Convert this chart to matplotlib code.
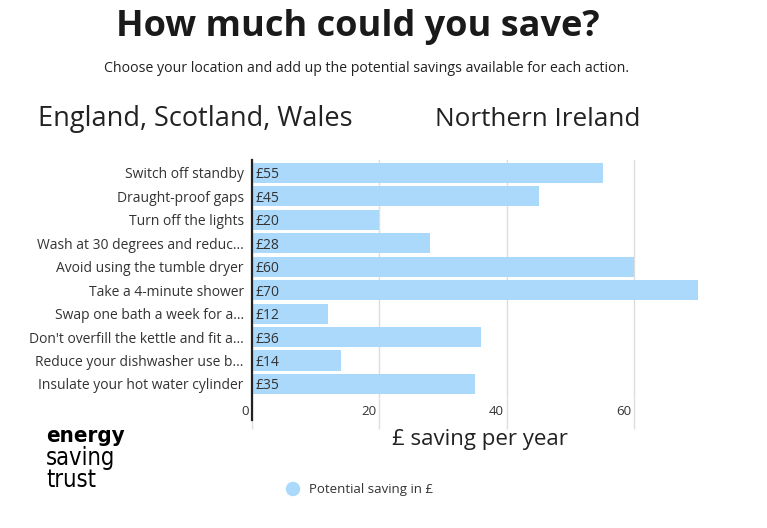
import numpy as np
import matplotlib.pyplot as plt
import matplotlib.transforms as mtransforms
from matplotlib.patches import Ellipse

actions = [
    "Switch off standby",
    "Draught-proof gaps",
    "Turn off the lights",
    "Wash at 30 degrees and reduc...",
    "Avoid using the tumble dryer",
    "Take a 4-minute shower",
    "Swap one bath a week for a...",
    "Don't overfill the kettle and fit a...",
    "Reduce your dishwasher use b...",
    "Insulate your hot water cylinder",
]
savings = [55, 45, 20, 28, 60, 70, 12, 36, 14, 35]
xticks = [0, 20, 40, 60]

bar_col = '#aad9fc'
txt_col = '#333333'
grid_col = '#dddddd'
plt.rcParams['font.family'] = ['Open Sans', 'DejaVu Sans']

W, H = 767, 528
fig = plt.figure(figsize=(W / 100, H / 100), dpi=100)

# axes placed in pixel terms
x0, x1, y0, y1 = 252, 730, 160, 398
ax = fig.add_axes([x0 / W, 1 - y1 / H, (x1 - x0) / W, (y1 - y0) / H])

y = np.arange(len(actions))
ax.barh(y, savings, height=0.86, color=bar_col, zorder=2)
ax.set_xlim(0, 75)
ax.set_ylim(9.6, -0.55)
ax.set_yticks(y)
ax.set_yticklabels(actions, fontsize=10, color=txt_col)
ax.tick_params(axis='y', length=0, pad=6)

ax.set_xticks(xticks)
ax.set_xticklabels([str(t) for t in xticks], fontsize=9.5, color=txt_col, ha='right')
ax.tick_params(axis='x', length=22, color=grid_col, width=1, pad=-17)
shift = mtransforms.ScaledTranslation(-3 / 100, 0, fig.dpi_scale_trans)
for lab in ax.get_xticklabels():
    lab.set_transform(lab.get_transform() + shift)

ax.grid(axis='x', color=grid_col, linewidth=1, zorder=0)
for s in ['top', 'right', 'bottom', 'left']:
    ax.spines[s].set_visible(False)
ax.axvline(0, ymin=-0.093, ymax=1, color='#222222', linewidth=1.6, clip_on=False, zorder=3)

for i, v in enumerate(savings):
    ax.annotate("£%d" % v, xy=(0, i), xytext=(2.5, 0), textcoords='offset points',
                ha='left', va='center_baseline', fontsize=10, color=txt_col, zorder=4)

fig.text(358 / W, 1 - 27 / H, "How much could you save?", ha='center', va='center',
         fontsize=26, fontweight='bold', color='#1a1a1a')
fig.text(367 / W, 1 - 68 / H, "Choose your location and add up the potential savings available for each action.",
         ha='center', va='center', fontsize=10.2, color='#222222')
fig.text(38 / W, 1 - 119 / H, "England, Scotland, Wales", ha='left', va='center',
         fontsize=19.5, color='#222222')
fig.text(435 / W, 1 - 119 / H, "Northern Ireland", ha='left', va='center',
         fontsize=18.8, color='#222222')

fig.text(480 / W, 1 - 440 / H, "£ saving per year", ha='center', va='center',
         fontsize=16, color='#222222')

# legend
fig.patches.append(Ellipse((293 / W, 1 - 489 / H), 13 / W, 13 / H, transform=fig.transFigure,
                           color=bar_col, figure=fig))
fig.text(309 / W, 1 - 489 / H, "Potential saving in £", ha='left', va='center',
         fontsize=9.5, color='#333333')

# logo
fig.text(46 / W, 1 - 436 / H, "energy", ha='left', va='center', fontsize=16,
         fontweight='bold', fontstretch='condensed', family='DejaVu Sans', color='black')
fig.text(46 / W, 1 - 458 / H, "saving", ha='left', va='center', fontsize=17,
         fontstretch='condensed', family='DejaVu Sans', color='black')
fig.text(46 / W, 1 - 480 / H, "trust", ha='left', va='center', fontsize=17,
         fontstretch='condensed', family='DejaVu Sans', color='black')

fig.savefig("out.png", dpi=100)
